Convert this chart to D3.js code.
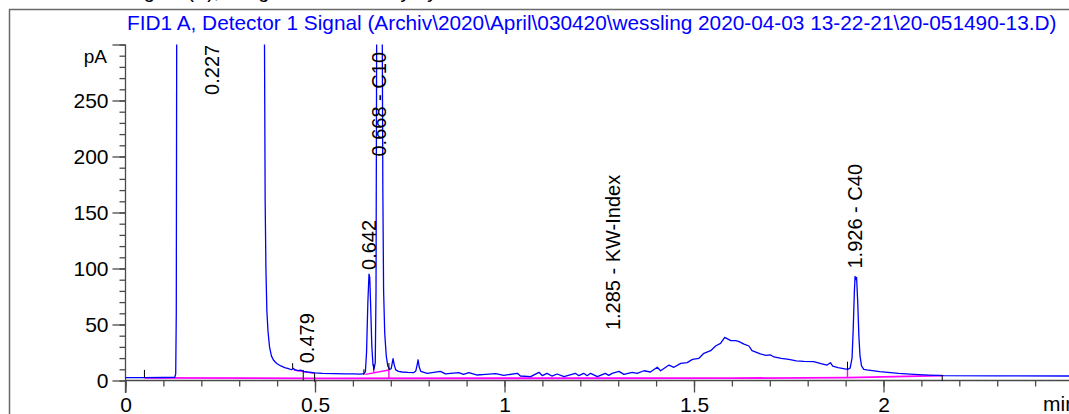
<!DOCTYPE html>
<html>
<head>
<meta charset="utf-8">
<script src="https://cdn.jsdelivr.net/npm/d3@7"></script>
<style>
  html, body { margin: 0; padding: 0; background: #fff; }
  svg { display: block; font-family: "Liberation Sans", Arial, sans-serif; }
</style>
</head>
<body>
<div id="chart"></div>
<script>
// signal trace (time in min, signal in pA)
const sigT = [0.000, 0.050, 0.100, 0.130, 0.1325, 0.134, 0.1355, 0.200, 0.300, 0.360,
  0.3665, 0.3685, 0.3705, 0.373, 0.376, 0.380, 0.385, 0.390, 0.395, 0.400,
  0.410, 0.420, 0.430, 0.438, 0.443, 0.448, 0.455, 0.462, 0.470, 0.480,
  0.490, 0.500, 0.520, 0.550, 0.580, 0.600, 0.620, 0.629, 0.633, 0.636,
  0.6395, 0.6425, 0.6445, 0.647, 0.650, 0.653, 0.656, 0.659, 0.661, 0.663,
  0.670, 0.677, 0.679, 0.681, 0.684, 0.688, 0.692, 0.697, 0.701, 0.704,
  0.706, 0.709, 0.713, 0.720, 0.730, 0.745, 0.760, 0.766, 0.7695, 0.772,
  0.775, 0.779, 0.796, 0.831, 0.844, 0.879, 0.892, 0.906, 0.928, 0.950,
  0.977, 0.998, 1.034, 1.042, 1.069, 1.091, 1.100, 1.112, 1.125, 1.139,
  1.157, 1.187, 1.196, 1.209, 1.218, 1.227, 1.245, 1.266, 1.275, 1.284,
  1.302, 1.315, 1.337, 1.350, 1.368, 1.385, 1.403, 1.412, 1.434, 1.447,
  1.465, 1.482, 1.496, 1.513, 1.526, 1.544, 1.557, 1.570, 1.581, 1.597,
  1.610, 1.619, 1.632, 1.645, 1.653, 1.675, 1.690, 1.702, 1.711, 1.730,
  1.750, 1.770, 1.790, 1.816, 1.835, 1.851, 1.860, 1.866, 1.880, 1.905,
  1.912, 1.917, 1.920, 1.923, 1.925, 1.927, 1.929, 1.932, 1.935, 1.938,
  1.942, 1.948, 1.956, 1.990, 2.040, 2.080, 2.120, 2.158, 2.300, 2.500];
const sigV = [2.6, 2.6, 2.7, 2.8, 6, 60, 400, 2000, 2000, 900,
  320, 160, 100, 62, 44, 30, 22, 18.5, 16.5, 15,
  13, 11.5, 10.5, 9.6, 10.8, 9.4, 8.8, 9.2, 8.2, 7.6,
  7.2, 6.8, 6.4, 6.2, 6.0, 5.9, 5.7, 6.2, 8, 25,
  70, 95, 92, 65, 30, 14, 10.5, 16, 80, 350,
  900, 350, 170, 80, 42, 22, 13, 10, 10.5, 16,
  19.5, 14, 9.5, 8.2, 7.6, 7.2, 7.0, 8.5, 14, 18.5,
  12, 8.2, 6.4, 8.1, 5.9, 7.0, 5.5, 7.0, 4.9, 5.5,
  6.1, 4.6, 6.4, 4.0, 3.4, 7.3, 4.3, 6.4, 4.0, 5.8,
  3.4, 6.4, 4.3, 6.4, 4.3, 6.4, 3.4, 6.4, 4.6, 6.4,
  8.1, 5.5, 7.3, 6.4, 8.7, 7.6, 11.8, 8.7, 13.8, 11.8,
  15.3, 16.0, 18.9, 19.8, 24.3, 26.6, 30.8, 33.2, 38.5, 35.6,
  35.6, 34.7, 32.5, 30.8, 26.6, 23.7, 22.5, 22.8, 21.0, 19.8,
  18.8, 17.6, 17.0, 16.8, 15.0, 13.8, 15.9, 12.8, 11.5, 10.0,
  11.0, 20, 45, 78, 93, 90, 92, 70, 40, 22,
  13, 10, 9.4, 7.9, 6.3, 5.5, 4.8, 4.3, 4.1, 4.0];

// integration baseline
const baseT = [0.05, 0.5, 1.6, 1.905, 2.155];
const baseV = [2.4, 1.9, 2.1, 2.5, 4.3];
// extra baseline pieces [t0, v0, t1, v1]
const baseSegs = [
  [0.444, 9.4, 0.497, 6.4],
  [0.633, 5.5, 0.695, 9.4],
  [0.655, 6.9, 0.655, 10.5],
  [0.695, 2.0, 0.695, 9.4],
  [1.905, 2.5, 1.905, 10.0]
];
// peak start/stop markers [t, v0, v1]
const markT = [0.050, 0.441, 0.469, 0.499, 0.629, 0.655, 0.695, 1.905, 2.155];
const markV0 = [2.6, 10.5, 0.0, -1.0, 5.0, 9.3, 9.4, 9.4, -0.2];
const markV1 = [9.5, 15.5, 9.4, 6.7, 10.0, 14.6, 15.6, 16.8, 4.9];

// peak labels: retention time, text, label start level (pA)
const peakT = [0.227, 0.479, 0.642, 0.668, 1.285, 1.926];
const peakText = ["0.227", "0.479", "0.642", "0.668 - C10", "1.285 - KW-Index", "1.926 - C40"];
const peakLabelV = [255, 15.4, 98.7, 200, 45, 100];

// axes
const yMajor = [0, 50, 100, 150, 200, 250, 300];
const yMinor = d3.range(0, 301, 10);
const xMajor = [0, 0.5, 1, 1.5, 2];
const xMinor = d3.range(0, 2.45, 0.1);

const title = "FID1 A, Detector 1 Signal (Archiv\\2020\\April\\030420\\wessling 2020-04-03 13-22-21\\20-051490-13.D)";

const width = 1069, height = 414;
const svg = d3.select("#chart").append("svg")
  .attr("width", width).attr("height", height);

svg.append("rect").attr("width", width).attr("height", height).attr("fill", "#fff");

// header line above the frame, cut off by the page top
svg.append("text")
  .attr("x", 126).attr("y", -2.5)
  .style("font-size", "20px").attr("fill", "#000")
  .text("Signal (A), Integration Summary by");

// frame
svg.append("rect")
  .attr("x", 9.5).attr("y", 9.5)
  .attr("width", 1200).attr("height", 600)
  .attr("fill", "none").attr("stroke", "#6a6a6a").attr("stroke-width", 1.5);

svg.append("text")
  .attr("x", 127).attr("y", 30)
  .style("font-size", "20.8px").attr("fill", "#0000ff")
  .text(title);

const x = d3.scaleLinear().domain([0, 2.5]).range([125.5, 125.5 + 2.5 * 379]);
const y = d3.scaleLinear().domain([0, 300]).range([380.5, 44.5]);

svg.append("clipPath").attr("id", "plotclip")
  .append("rect").attr("x", 120).attr("y", 44.5).attr("width", 960).attr("height", 370);

// --- axes ---
const axisColor = "#4a4a4a";
const yAxisG = svg.append("g").attr("transform", "translate(125.5,0)");
yAxisG.call(d3.axisLeft(y).tickValues(yMinor).tickSize(6).tickSizeOuter(0).tickFormat(""));
yAxisG.append("g").call(d3.axisLeft(y).tickValues(yMajor).tickSize(13).tickSizeOuter(0).tickPadding(4)
  .tickFormat(d => d === 300 ? "" : d));
yAxisG.selectAll("path.domain").remove();
yAxisG.append("line").attr("x1", 0).attr("x2", 0).attr("y1", 44.5).attr("y2", 393);

const xAxisG = svg.append("g").attr("transform", "translate(0,380.5)");
xAxisG.call(d3.axisBottom(x).tickValues(xMinor).tickSize(6).tickSizeOuter(0).tickFormat(""));
xAxisG.append("g").call(d3.axisBottom(x).tickValues(xMajor).tickSize(12).tickSizeOuter(0).tickPadding(5)
  .tickFormat(d3.format("")));
xAxisG.selectAll("path.domain").remove();
xAxisG.append("line").attr("x1", 125.5).attr("x2", width).attr("y1", 0).attr("y2", 0);

svg.selectAll(".tick text").attr("fill", "#000").style("font-size", "21px")
  .style("font-family", "'Liberation Sans', Arial, sans-serif");
yAxisG.selectAll("line").attr("stroke", axisColor).attr("stroke-width", 1.3);
xAxisG.selectAll("line").attr("stroke", axisColor).attr("stroke-width", 1.3);

svg.append("text").attr("x", 107).attr("y", 63).attr("text-anchor", "end")
  .style("font-size", "19px").text("pA");
svg.append("text").attr("x", 1043).attr("y", 411)
  .style("font-size", "21px").text("min");

// --- traces ---
const plot = svg.append("g").attr("clip-path", "url(#plotclip)");

const baseLine = d3.line().x(d => x(d[0])).y(d => y(d[1]));
plot.append("path")
  .attr("d", baseLine(baseT.map((t, i) => [t, baseV[i]])))
  .attr("fill", "none").attr("stroke", "#ff00ff").attr("stroke-width", 1.8);

plot.selectAll(".bseg").data(baseSegs).enter().append("line")
  .attr("class", "bseg")
  .attr("x1", d => x(d[0])).attr("y1", d => y(d[1]))
  .attr("x2", d => x(d[2])).attr("y2", d => y(d[3]))
  .attr("stroke", "#ff00ff").attr("stroke-width", 1.4);

const sigLine = d3.line().x(d => x(d[0])).y(d => y(d[1]));
plot.append("path")
  .attr("d", sigLine(sigT.map((t, i) => [t, sigV[i]])))
  .attr("fill", "none").attr("stroke", "#0000ff").attr("stroke-width", 1.3)
  .attr("stroke-linejoin", "round");

plot.selectAll(".mark").data(markT).enter().append("line")
  .attr("class", "mark")
  .attr("x1", d => x(d)).attr("x2", d => x(d))
  .attr("y1", (d, i) => y(markV0[i])).attr("y2", (d, i) => y(markV1[i]))
  .attr("stroke", "#000").attr("stroke-width", 1);

// --- peak labels ---
svg.selectAll(".plabel").data(peakT).enter().append("text")
  .attr("class", "plabel")
  .attr("transform", (d, i) => `translate(${x(d)},${y(peakLabelV[i])}) rotate(-90)`)
  .attr("dy", "0.35em")
  .style("font-size", "20px")
  .attr("fill", "#000")
  .text((d, i) => peakText[i]);
</script>
</body>
</html>
